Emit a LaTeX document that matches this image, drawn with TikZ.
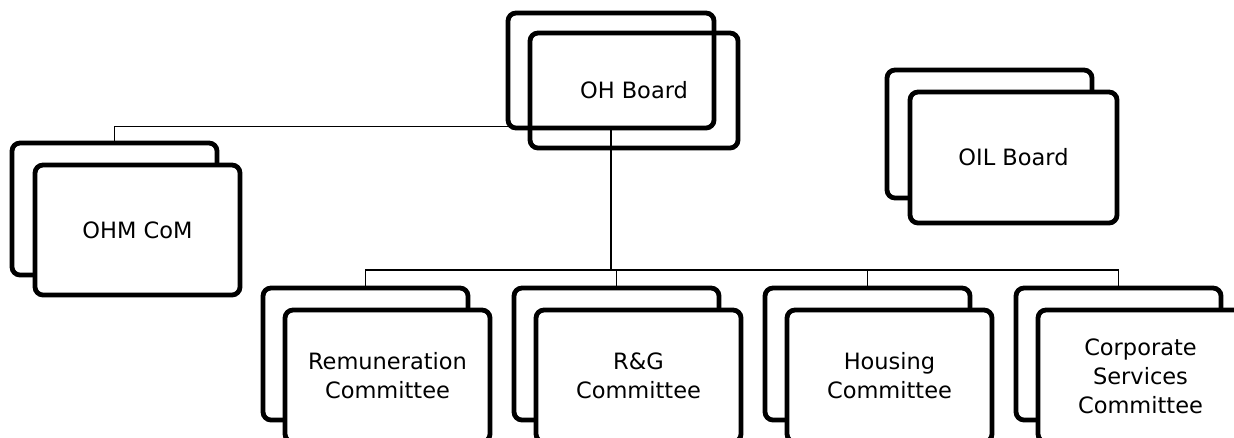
\documentclass[tikz,border=0pt]{standalone}
\usepackage{fontspec}
\setmainfont{DejaVu Sans}
\usetikzlibrary{backgrounds}
\begin{document}
\begin{tikzpicture}[x=1pt,y=-1pt,
  box/.style={draw, line width=4.8pt, rounded corners=8pt, fill=white,
    minimum width=205pt, minimum height=132pt, inner sep=0pt, align=center,
    font=\fontsize{22.5}{29}\selectfont},
  hollow/.style={box, fill=none},
  conn/.style={line width=1.4pt}]
\useasboundingbox (0,0) rectangle (1234,437);
% OH Board (outlines only)
\node[hollow, minimum width=206pt, minimum height=115pt] (ohb) at (611,70.5) {};
\node[hollow, minimum width=208pt, minimum height=115pt] (ohf) at (634,90.5) {OH Board};
% OHM CoM
\node[box] (ohmb) at (114.5,209) {};
\node[box, minimum height=130pt] (ohmf) at (137.5,230) {OHM CoM};
% OIL Board
\node[box, minimum height=128pt] (oilb) at (989.5,134) {};
\node[box, minimum width=207pt, minimum height=131pt] (oilf) at (1013.5,157.5) {OIL Board};
% Committees
\node[box] (remb) at (365.5,354) {};
\node[box] (remf) at (387.5,376) {Remuneration\\Committee};
\node[box] (rgb) at (616.5,354) {};
\node[box] (rgf) at (638.5,376) {R\&G\\Committee};
\node[box] (houb) at (867.5,354) {};
\node[box] (houf) at (889.5,376) {Housing\\Committee};
\node[box] (corb) at (1118.5,354) {};
\node[box] (corf) at (1140.5,376) {Corporate\\Services\\Committee};
% connectors
\begin{scope}[on background layer]
\coordinate (bus) at (611,270);
\coordinate (assist) at (508,126.5);
\draw[conn] (assist) -- (assist -| ohmb.north) -- (ohmb.north);
\draw[conn] (ohb.south) -- (bus);
\draw[conn] (remb.north) -- (remb.north |- bus) -- (corb.north |- bus) -- (corb.north);
\draw[conn] (rgb.north) -- (rgb.north |- bus);
\draw[conn] (houb.north) -- (houb.north |- bus);
\end{scope}
\end{tikzpicture}
\end{document}
